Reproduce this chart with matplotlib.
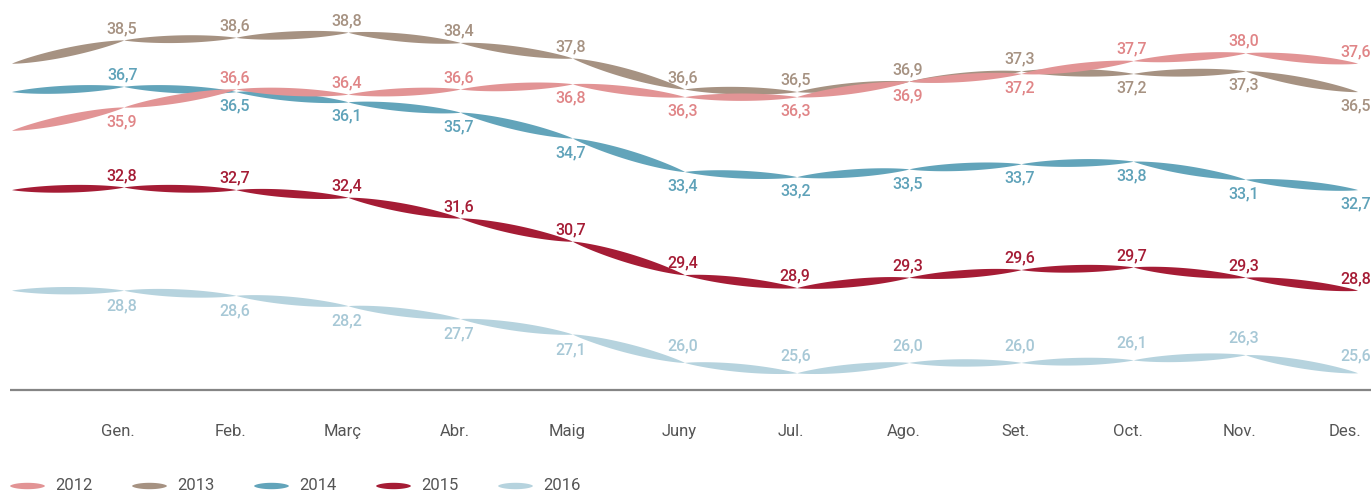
import numpy as np
import matplotlib
matplotlib.use("Agg")
import matplotlib.pyplot as plt
from matplotlib.transforms import IdentityTransform

# ---------------- data ----------------
months = ["Gen.", "Feb.", "Març", "Abr.", "Maig", "Juny",
          "Jul.", "Ago.", "Set.", "Oct.", "Nov.", "Des."]
years = ["2012", "2013", "2014", "2015", "2016"]

# value of the previous December (unlabelled starting point at left edge)
prev_dec = [35.0, 37.6, 36.5, 32.7, 28.8]

v2012 = [35.9, 36.6, 36.4, 36.6, 36.8, 36.3, 36.3, 36.9, 37.2, 37.7, 38.0, 37.6]
v2013 = [38.5, 38.6, 38.8, 38.4, 37.8, 36.6, 36.5, 36.9, 37.3, 37.2, 37.3, 36.5]
v2014 = [36.7, 36.5, 36.1, 35.7, 34.7, 33.4, 33.2, 33.5, 33.7, 33.8, 33.1, 32.7]
v2015 = [32.8, 32.7, 32.4, 31.6, 30.7, 29.4, 28.9, 29.3, 29.6, 29.7, 29.3, 28.8]
v2016 = [28.8, 28.6, 28.2, 27.7, 27.1, 26.0, 25.6, 26.0, 26.0, 26.1, 26.3, 25.6]
series = [v2012, v2013, v2014, v2015, v2016]

# label placement: 'a' above, 'b' below
side2012 = "baaabbbbbaaa"
side2013 = "aaaaaaaaabbb"
side2014 = "abbbbbbbbbbb"
side2015 = "aaaaaaaaaaaa"
side2016 = "bbbbbaaaaaaa"
sides = [side2012, side2013, side2014, side2015, side2016]

line_colors = ["#E29495", "#A69282", "#62A4BA", "#A51C35", "#B6D3DE"]
text_colors = ["#E08587", "#A69282", "#5FA2B9", "#A51C35", "#A7C8D6"]

# ---------------- figure ----------------
W, H = 1371, 493
fig = plt.figure(figsize=(W / 100, H / 100), dpi=100)
ax = fig.add_axes([0, 0, 1, 1])
ax.set_axis_off()

px_per_idx = 112.17
ax.set_xlim(-12 / px_per_idx, (W - 12) / px_per_idx)
ppu = 25.8
top_val = 32.8 + 187.5 / ppu
ax.set_ylim(top_val - H / ppu, top_val)

FONT = ["Roboto", "DejaVu Sans"]


def lens(x0, y0, x1, y1, color, z):
    t = np.linspace(0, 1, 80)
    x = x0 + (x1 - x0) * t
    yc = y0 + (y1 - y0) * t
    dpx = abs(y1 - y0) * ppu
    h = (3.7 + 0.035 * dpx) * (4 * t * (1 - t)) ** 0.85 / ppu
    ax.fill(np.r_[x, x[::-1]], np.r_[yc + h, (yc - h)[::-1]],
            color=color, lw=0, zorder=z)


for k in range(len(years) - 1, -1, -1):
    vals = [prev_dec[k]] + series[k]
    z = 10 - k
    for i in range(len(vals) - 1):
        lens(i, vals[i], i + 1, vals[i + 1], line_colors[k], z)
    up_off = 17 if k == 4 else 12
    dn_off = -15 if k == 4 else -14
    for i, v in enumerate(series[k]):
        above = sides[k][i] == "a"
        ax.annotate(f"{v:.1f}".replace(".", ","), (i + 1, v),
                    xytext=(-2, up_off if above else dn_off), textcoords="offset pixels",
                    ha="center", va="center", fontsize=11.5, color=text_colors[k],
                    fontweight="medium", family=FONT, zorder=20)

# baseline
base_val = top_val - 390 / ppu
ax.plot([-0.02, 12.2], [base_val, base_val], color="#858585", lw=1.6,
        solid_capstyle="butt", zorder=1)

# month labels
month_val = top_val - 432 / ppu
for i, m in enumerate(months):
    if i == len(months) - 1:
        ax.annotate(m, (i + 1, month_val), xytext=(3, 0), textcoords="offset pixels",
                    ha="right", va="center", fontsize=12, color="#555555",
                    fontweight="normal", family=FONT)
    else:
        ax.annotate(m, (i + 1, month_val), xytext=(-6, 0), textcoords="offset pixels",
                    ha="center", va="center", fontsize=12, color="#555555",
                    fontweight="normal", family=FONT)

# legend (pixel layout)
leg_y = H - 486
for k, yr in enumerate(years):
    x0 = 10 + k * 122
    t = np.linspace(0, 1, 60)
    xs = x0 + 35 * t
    hh = 3.2 * (4 * t * (1 - t)) ** 0.6
    fig.patches.append(plt.Polygon(np.c_[np.r_[xs, xs[::-1]], np.r_[leg_y + hh, (leg_y - hh)[::-1]]],
                                   closed=True, color=line_colors[k], lw=0,
                                   transform=IdentityTransform(), figure=fig))
    fig.text((x0 + 45) / W, leg_y / H, yr, ha="left", va="center", fontsize=12,
             color="#555555", fontweight="normal", family=FONT)

fig.savefig("out.png", dpi=100)
